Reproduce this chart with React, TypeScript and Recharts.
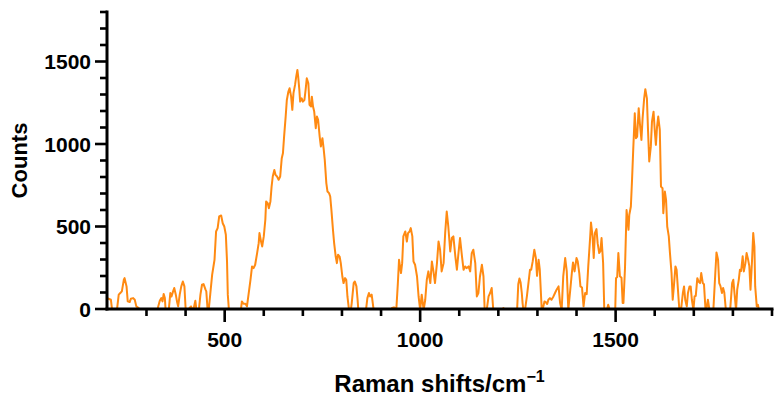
import React from "react";
import { LineChart, Line, XAxis, YAxis, Label } from "recharts";

// Raman shift (cm^-1)
const ramanShift = [
  199, 203, 209, 212, 218, 225, 229, 233, 237, 242, 244, 249, 252, 257, 260, 266, 270, 274, 280, 284,
  305, 327, 329, 334, 338, 341, 344, 347, 349, 353, 357, 361, 364, 368, 371, 375, 378, 381, 385, 389,
  393, 397, 400, 405, 410, 414, 417, 421, 425, 428, 434, 438, 442, 446, 451, 453, 456, 459, 463, 468,
  472, 474, 478, 482, 486, 491, 495, 499, 503, 506, 508, 511, 525, 540, 542, 544, 548, 553, 557, 561,
  566, 570, 574, 578, 583, 587, 589, 593, 596, 600, 604, 606, 610, 613, 617, 620, 623, 627, 630, 634,
  638, 642, 646, 649, 652, 656, 659, 663, 666, 670, 673, 676, 680, 683, 686, 688, 691, 693, 697, 700,
  704, 707, 710, 714, 717, 721, 723, 726, 729, 733, 736, 739, 743, 746, 750, 753, 756, 760, 763, 767,
  770, 773, 777, 780, 784, 787, 790, 794, 797, 801, 804, 808, 811, 814, 818, 822, 825, 830, 833, 837,
  840, 842, 850, 860, 862, 865, 869, 872, 876, 881, 900, 925, 928, 933, 937, 939, 943, 946, 951, 954,
  957, 962, 966, 969, 973, 976, 980, 983, 987, 992, 996, 1000, 1004, 1009, 1013, 1017, 1021, 1026, 1030, 1034,
  1038, 1043, 1047, 1051, 1055, 1060, 1064, 1068, 1072, 1077, 1081, 1085, 1090, 1094, 1098, 1102, 1107, 1111, 1115, 1119,
  1124, 1128, 1132, 1136, 1141, 1145, 1149, 1153, 1158, 1162, 1165, 1170, 1175, 1179, 1183, 1187, 1200, 1211, 1213, 1215,
  1230, 1248, 1251, 1254, 1257, 1260, 1262, 1264, 1268, 1273, 1277, 1281, 1284, 1288, 1292, 1296, 1299, 1303, 1306, 1311,
  1314, 1318, 1322, 1325, 1328, 1332, 1336, 1341, 1345, 1349, 1354, 1358, 1362, 1366, 1371, 1375, 1379, 1384, 1388, 1391,
  1395, 1400, 1403, 1407, 1410, 1414, 1418, 1422, 1426, 1430, 1435, 1437, 1441, 1444, 1447, 1451, 1454, 1458, 1461, 1464,
  1468, 1471, 1476, 1481, 1483, 1486, 1495, 1499, 1501, 1504, 1507, 1511, 1515, 1518, 1520, 1524, 1528, 1533, 1535, 1539,
  1542, 1545, 1549, 1552, 1555, 1559, 1562, 1566, 1569, 1573, 1576, 1580, 1583, 1586, 1590, 1593, 1597, 1600, 1603, 1606,
  1609, 1613, 1616, 1620, 1622, 1626, 1629, 1632, 1636, 1639, 1643, 1646, 1649, 1653, 1656, 1660, 1663, 1668, 1672, 1675,
  1678, 1682, 1685, 1689, 1692, 1695, 1699, 1702, 1705, 1709, 1712, 1716, 1719, 1723, 1726, 1730, 1733, 1736, 1740, 1750,
  1755, 1758, 1762, 1765, 1768, 1772, 1775, 1778, 1782, 1793, 1798, 1801, 1804, 1808, 1811, 1815, 1818, 1821, 1825, 1828,
  1832, 1835, 1839, 1842, 1845, 1849, 1852, 1855, 1857, 1861, 1864, 1866,
];

// Counts
const counts = [
  66, 62, 56, -5, -40, 6, 87, 97, 107, 177, 187, 137, 46, 42, 62, 66, 56, 16, 6, -10,
  -50, -10, 6, 50, 66, 46, 91, 66, -10, -30, -5, 97, 76, 107, 127, 87, 46, 16, 87, 137,
  167, 137, 6, -10, 6, 16, -5, 6, 50, -10, -5, 87, 147, 151, 117, 107, 6, -10, 87, 208,
  268, 298, 470, 490, 561, 567, 520, 500, 450, 288, 87, -10, -50, -5, 6, 46, 32, 32, 16, 87,
  177, 258, 248, 268, 339, 399, 460, 409, 379, 440, 541, 652, 642, 611, 652, 742, 803, 843, 813, 803,
  783, 803, 914, 944, 1045, 1166, 1267, 1318, 1338, 1287, 1207, 1308, 1358, 1408, 1449, 1408, 1328, 1257, 1277, 1257,
  1267, 1328, 1398, 1368, 1237, 1227, 1287, 1227, 1197, 1096, 1166, 1146, 1045, 985, 1035, 975, 904, 763, 712, 702,
  682, 601, 480, 399, 318, 278, 329, 318, 278, 197, 157, 187, 177, 76, -5, -20, 36, 157, 167, 137,
  56, -10, -40, -5, 6, 66, 97, 76, 87, -5, -60, -20, 6, 10, 4, -5, 157, 298, 218, 278,
  440, 470, 409, 460, 470, 490, 440, 288, 268, 197, 76, -5, 87, -5, 56, 177, 228, 157, 288, 228,
  157, 278, 409, 359, 228, 278, 460, 591, 500, 349, 430, 440, 319, 238, 339, 430, 319, 238, 258, 248,
  258, 228, 339, 359, 278, 76, 97, 197, 268, 197, -5, -10, 76, 97, 127, -5, -30, -3, 6, -5,
  -40, -5, 150, 185, 160, 97, 36, -5, -10, 76, 157, 238, 238, 290, 359, 309, 201, 298, 238, -5,
  5, 46, 40, 30, 56, 66, 56, 76, 97, 117, 137, 36, -5, 198, 309, 230, -5, 117, 218, 282,
  228, 309, 289, 218, 137, 130, 16, 97, 90, 258, 440, 524, 440, 309, 460, 484, 399, 339, 350, 430,
  280, -5, -20, 26, 10, -20, -20, -5, 187, 194, 339, 198, 190, 36, 36, 250, 600, 480, 571, 621,
  783, 964, 1186, 1035, 1045, 1217, 1126, 1025, 1156, 1277, 1332, 1277, 1075, 894, 984, 1136, 1196, 1085, 995, 1106,
  1166, 1085, 742, 732, 581, 712, 662, 500, 440, 339, 218, 56, 137, 258, 238, 97, -5, 10, 97, 137,
  56, 16, 97, 137, 137, 56, -5, 76, 80, 187, 167, 157, 218, 157, 150, -5, 10, 56, -5, -5,
  218, 343, 298, 157, 140, 97, 127, 100, -5, -5, 157, 177, 97, -5, 117, 177, 238, 230, 319, 228,
  278, 339, 298, 260, 117, 298, 460, 379, 137, 16, 26, 0,
];

const xTicks = [300, 400, 500, 600, 700, 800, 900, 1000, 1100, 1200, 1300, 1400, 1500, 1600, 1700, 1800, 1900];
const xMajor = [500, 1000, 1500];
const yTicks = [0, 100, 200, 300, 400, 500, 600, 700, 800, 900, 1000, 1100, 1200, 1300, 1400, 1500, 1600, 1700, 1800];
const yMajor = [0, 500, 1000, 1500];

const data = ramanShift.map((x, i) => ({ x, y: counts[i] }));

const FONT = '"Liberation Sans", Arial, Helvetica, sans-serif';

const XTick = (props: any) => {
  const { x, y, payload } = props;
  const major = xMajor.includes(payload.value);
  return (
    <g>
      <line x1={x} x2={x} y1={y} y2={y + (major ? 13 : 7)} stroke="#000" strokeWidth={2.6} />
      {major && (
        <text x={x} y={y + 38} textAnchor="middle" fontFamily={FONT} fontWeight="bold" fontSize={21} fill="#000">
          {payload.value}
        </text>
      )}
    </g>
  );
};

const YTick = (props: any) => {
  const { x, y, payload } = props;
  const major = yMajor.includes(payload.value);
  return (
    <g>
      <line x1={x - (major ? 12 : 7)} x2={x} y1={y} y2={y} stroke="#000" strokeWidth={2.6} />
      {major && (
        <text x={x - 16} y={y + 7.5} textAnchor="end" fontFamily={FONT} fontWeight="bold" fontSize={21} fill="#000">
          {payload.value}
        </text>
      )}
    </g>
  );
};

const XTitle = (props: any) => {
  const vb = props.viewBox || {};
  const cx = vb.x + vb.width / 2;
  return (
    <text x={cx} y={392} textAnchor="middle" fontFamily={FONT} fontWeight="bold" fontSize={24} fill="#000">
      Raman shifts/cm
      <tspan fontSize={16} dy={-10}>−1</tspan>
    </text>
  );
};

const YTitle = (props: any) => {
  const vb = props.viewBox || {};
  const cy = vb.y + vb.height / 2;
  const x = 27;
  return (
    <text
      x={x}
      y={cy}
      transform={`rotate(-90, ${x}, ${cy})`}
      textAnchor="middle"
      fontFamily={FONT}
      fontWeight="bold"
      fontSize={22}
      fill="#000"
    >
      Counts
    </text>
  );
};

export default function App() {
  return (
    <div style={{ position: "absolute", left: 0, top: 0, background: "#fff" }}>
      <LineChart width={781} height={401} data={data} margin={{ top: 12, right: 9, bottom: 32, left: 47 }}>
        <XAxis
          dataKey="x"
          type="number"
          domain={[200, 1900]}
          ticks={xTicks}
          interval={0}
          tickSize={0}
          tickMargin={0}
          tickLine={false}
          tick={<XTick />}
          height={60}
          axisLine={{ stroke: "#000", strokeWidth: 3, strokeLinecap: "square" }}
        >
          <Label content={<XTitle />} />
        </XAxis>
        <YAxis
          type="number"
          domain={[0, 1800]}
          allowDataOverflow
          ticks={yTicks}
          interval={0}
          tickSize={0}
          tickMargin={0}
          tickLine={false}
          tick={<YTick />}
          width={60}
          axisLine={{ stroke: "#000", strokeWidth: 3, strokeLinecap: "square" }}
        >
          <Label content={<YTitle />} />
        </YAxis>
        <Line
          type="linear"
          dataKey="y"
          stroke="#FF8A12"
          strokeWidth={2}
          dot={false}
          activeDot={false}
          isAnimationActive={false}
          strokeLinejoin="round"
        />
      </LineChart>
    </div>
  );
}
